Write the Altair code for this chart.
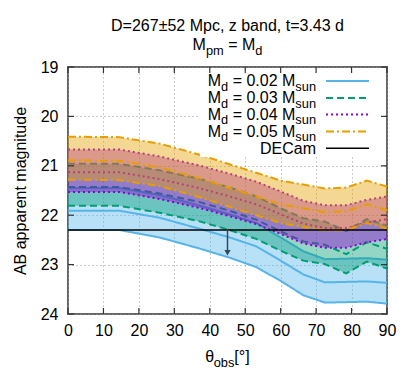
import altair as alt
import pandas as pd

# ---------------- data ----------------
theta = [0, 14.5, 25.8, 36.9, 45.6, 53.1, 60, 66.4, 72.5, 78.5, 84.3, 90]

m02_bright = [21.45, 21.45, 21.59, 21.80, 21.98, 22.16, 22.45, 22.73, 22.89, 22.88, 22.87, 22.90]
m02_mid    = [21.91, 21.91, 22.05, 22.27, 22.45, 22.63, 22.92, 23.20, 23.36, 23.35, 23.34, 23.37]
m02_faint  = [22.30, 22.30, 22.45, 22.67, 22.86, 23.05, 23.33, 23.62, 23.77, 23.76, 23.75, 23.79]

m03_bright = [20.96, 20.96, 21.09, 21.26, 21.44, 21.62, 21.86, 22.06, 22.13, 22.32, 22.08, 22.21]
m03_mid    = [21.43, 21.43, 21.56, 21.73, 21.91, 22.09, 22.33, 22.53, 22.60, 22.79, 22.55, 22.68]
m03_faint  = [21.81, 21.81, 21.95, 22.12, 22.30, 22.48, 22.72, 22.92, 22.99, 23.18, 22.94, 23.08]

m04_bright = [20.67, 20.67, 20.81, 20.99, 21.16, 21.32, 21.52, 21.71, 21.80, 21.80, 21.69, 21.62]
m04_mid    = [21.13, 21.13, 21.27, 21.45, 21.62, 21.78, 21.98, 22.17, 22.26, 22.26, 22.15, 22.08]
m04_faint  = [21.53, 21.53, 21.67, 21.85, 22.02, 22.18, 22.38, 22.57, 22.66, 22.66, 22.55, 22.48]

m05_bright = [20.41, 20.42, 20.55, 20.77, 20.97, 21.14, 21.30, 21.38, 21.46, 21.44, 21.30, 21.42]
m05_mid    = [20.89, 20.90, 21.03, 21.25, 21.45, 21.62, 21.78, 21.86, 21.94, 21.92, 21.78, 21.90]
m05_faint  = [21.28, 21.29, 21.41, 21.63, 21.83, 22.00, 22.16, 22.24, 22.31, 22.30, 22.16, 22.27]

masses = ["0.02", "0.03", "0.04", "0.05"]
curves = [
    (m02_bright, m02_mid, m02_faint),
    (m03_bright, m03_mid, m03_faint),
    (m04_bright, m04_mid, m04_faint),
    (m05_bright, m05_mid, m05_faint),
]
decam_limit = [22.3]
arrow_theta = [45]
arrow_mag = [22.3, 22.76]

x_ticks = [0, 10, 20, 30, 40, 50, 60, 70, 80, 90]
y_ticks = [19, 20, 21, 22, 23, 24]

# ---------------- style ----------------
colors = ["#56b4e9", "#009e73", "#9400d3", "#e69f00"]
dashes = [[1, 0], [7, 4], [2, 3], [8, 3, 2, 3]]
FONT = "Liberation Sans"
W, H = 319, 247
FS, SS, SUBDY = 16, 12.8, 4.5

ADV = {"M": 833, "d": 556, " ": 278, "=": 584, "0": 556, ".": 278, "2": 556,
       "3": 556, "4": 556, "5": 556, "s": 500, "u": 556, "n": 556, "p": 556,
       "m": 833, "o": 556, "b": 556, "θ": 521, "[": 278, "]": 278, "°": 400,
       "D": 722, "E": 667, "C": 722, "a": 556}


def tw(s, size):
    return sum(ADV.get(c, 556) for c in s) * size / 1000.0


dummy = pd.DataFrame({"a": [0]})


def rich(segs, x, base, align="left"):
    total = sum(tw(t, s) for t, s, _ in segs)
    if align == "right":
        x = x - total
    elif align == "center":
        x = x - total / 2
    out = []
    for t, s, dy in segs:
        lead = len(t) - len(t.lstrip(" "))
        body = t.strip(" ")
        bx = x + tw(" " * lead, s)
        out.append(
            alt.Chart(dummy).mark_text(text=body, fontSize=s, font=FONT, align="left",
                                       baseline="alphabetic", color="black")
            .encode(x=alt.value(bx), y=alt.value(base + dy))
        )
        x += tw(t, s)
    return out


xs = alt.Scale(domain=[0, 90], nice=False, zero=False)
ys = alt.Scale(domain=[19, 24], reverse=True, nice=False, zero=False)

x_axis = alt.Axis(values=x_ticks, grid=True, gridDash=[1, 3], gridColor="#999",
                  gridWidth=1, ticks=False, domain=False, labelFontSize=FS,
                  labelFont=FONT, labelColor="black", labelPadding=8, title=None,
                  labelFlush=False)
y_axis = alt.Axis(values=y_ticks, grid=True, gridDash=[1, 3], gridColor="#999",
                  gridWidth=1, ticks=False, domain=False, labelFontSize=FS,
                  labelFont=FONT, labelColor="black", labelPadding=10,
                  title="AB apparent magnitude", titleFontSize=FS, titleFont=FONT,
                  titleFontWeight="normal", titleColor="black", titlePadding=12,
                  labelFlush=False)


def X(field):
    return alt.X(field, scale=xs, axis=x_axis)


def Y(field):
    return alt.Y(field, scale=ys, axis=y_axis)


layers = []

for i, m in enumerate(masses):
    br, md, fa = curves[i]
    band = pd.DataFrame({"theta": theta, "br": br, "fa": fa})
    layers.append(
        alt.Chart(band).mark_area(color=colors[i], opacity=0.42)
        .encode(x=X("theta:Q"), y=Y("br:Q"), y2="fa:Q")
    )
    rows = []
    for name, vals in (("bright", br), ("mid", md), ("faint", fa)):
        for t, v in zip(theta, vals):
            rows.append({"theta": t, "mag": v, "curve": name})
    lines = pd.DataFrame(rows)
    layers.append(
        alt.Chart(lines).mark_line(color=colors[i], strokeWidth=2, strokeDash=dashes[i])
        .encode(x=X("theta:Q"), y=Y("mag:Q"), detail="curve:N")
    )

# DECam limit
layers.append(
    alt.Chart(pd.DataFrame({"lim": decam_limit})).mark_rule(color="black", strokeWidth=1.5)
    .encode(y=Y("lim:Q"))
)
# arrow
layers.append(
    alt.Chart(pd.DataFrame({"theta": arrow_theta, "m1": [arrow_mag[0]], "m2": [arrow_mag[1]]}))
    .mark_rule(color="#2f4b63", strokeWidth=1.5)
    .encode(x=X("theta:Q"), y=Y("m1:Q"), y2="m2:Q")
)
layers.append(
    alt.Chart(pd.DataFrame({"theta": arrow_theta, "mag": [arrow_mag[1]]}))
    .mark_point(shape="triangle-down", filled=True, size=40, color="#2f4b63", opacity=1)
    .encode(x=X("theta:Q"), y=Y("mag:Q"))
)

# opaque key box
layers.append(
    alt.Chart(dummy).mark_rect(color="white")
    .encode(x=alt.value(132), x2=alt.value(W - 1), y=alt.value(1), y2=alt.value(90))
)

# legend
row_y = [14, 31, 47.5, 64.5, 81.3]
for i, m in enumerate(masses):
    layers.append(
        alt.Chart(dummy).mark_rule(color=colors[i], strokeWidth=2, strokeDash=dashes[i])
        .encode(x=alt.value(258), x2=alt.value(301), y=alt.value(row_y[i]))
    )
    layers += rich([("M", FS, 0), ("d", SS, SUBDY), (" = " + m + " M", FS, 0), ("sun", SS, SUBDY)],
                   248, row_y[i] + 5, "right")
layers.append(
    alt.Chart(dummy).mark_rule(color="black", strokeWidth=1.5)
    .encode(x=alt.value(258), x2=alt.value(301), y=alt.value(row_y[4]))
)
layers += rich([("DECam", FS, 0)], 248, row_y[4] + 5.5, "right")

# inward ticks (mirrored)
xt = pd.DataFrame({"t": x_ticks})
yt = pd.DataFrame({"t": y_ticks})
tick_col = "#333"
layers.append(alt.Chart(xt).mark_rule(color=tick_col, strokeWidth=1.2)
              .encode(x=X("t:Q"), y=alt.value(H), y2=alt.value(H - 6)))
layers.append(alt.Chart(xt).mark_rule(color=tick_col, strokeWidth=1.2)
              .encode(x=X("t:Q"), y=alt.value(0), y2=alt.value(6)))
layers.append(alt.Chart(yt).mark_rule(color=tick_col, strokeWidth=1.2)
              .encode(y=Y("t:Q"), x=alt.value(0), x2=alt.value(6)))
layers.append(alt.Chart(yt).mark_rule(color=tick_col, strokeWidth=1.2)
              .encode(y=Y("t:Q"), x=alt.value(W), x2=alt.value(W - 6)))

# titles
layers.append(
    alt.Chart(dummy).mark_text(text="D=267±52 Mpc, z band, t=3.43 d", fontSize=FS, font=FONT,
                               align="center", baseline="alphabetic", color="black")
    .encode(x=alt.value(W / 2), y=alt.value(-36))
)
layers += rich([("M", FS, 0), ("pm", SS, SUBDY), (" = M", FS, 0), ("d", SS, SUBDY)], W / 2, -17, "center")
layers += rich([("θ", FS, 0), ("obs", SS, SUBDY), ("[°]", FS, 0)], W / 2, 295, "center")

chart = alt.layer(*layers).properties(
    width=W, height=H,
    autosize=alt.AutoSizeParams(type="none"),
    padding={"left": 60, "top": 59, "right": 20, "bottom": 62},
).configure_view(stroke="#666", strokeWidth=2)

chart.save("out.html", embed_options={"renderer": "svg", "actions": False})
